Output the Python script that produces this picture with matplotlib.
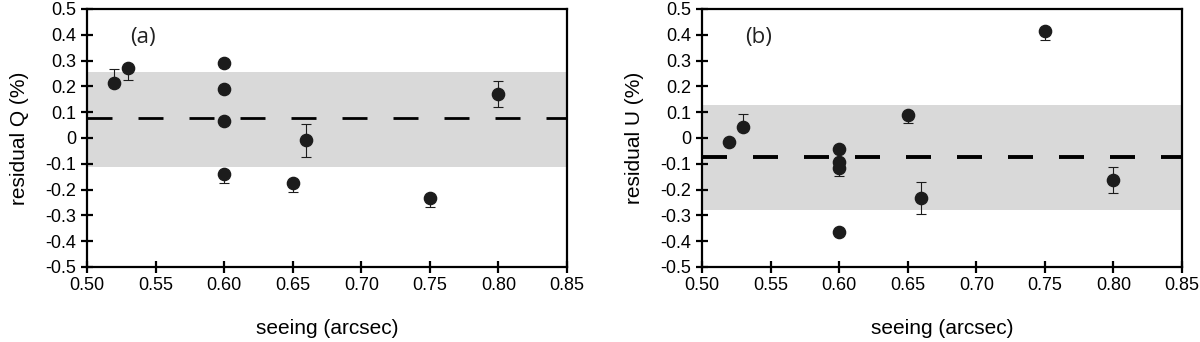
# Residual Q and U against seeing, two panels side by side

import matplotlib
matplotlib.use("Agg")
import matplotlib.pyplot as plt

plt.rcParams['font.family'] = ['Liberation Sans', 'DejaVu Sans']

# Panel (a): residual Q
seeing_q = [0.52, 0.53, 0.60, 0.60, 0.60, 0.60, 0.65, 0.66, 0.75, 0.80]
resid_q = [0.212, 0.270, 0.290, 0.190, 0.065, -0.140, -0.175, -0.008, -0.233, 0.170]
err_q_lo = [0.0, 0.045, 0.0, 0.0, 0.0, 0.034, 0.034, 0.064, 0.034, 0.050]
err_q_hi = [0.056, 0.0, 0.0, 0.0, 0.0, 0.0, 0.0, 0.064, 0.0, 0.050]
band_q = (-0.112, 0.256)
mean_q = 0.076

# Panel (b): residual U
seeing_u = [0.52, 0.53, 0.60, 0.60, 0.60, 0.60, 0.65, 0.66, 0.75, 0.80]
resid_u = [-0.017, 0.043, -0.044, -0.093, -0.117, -0.364, 0.088, -0.233, 0.413, -0.163]
err_u_lo = [0.0, 0.0, 0.0, 0.0, 0.031, 0.0, 0.030, 0.062, 0.033, 0.050]
err_u_hi = [0.0, 0.050, 0.0, 0.0, 0.0, 0.0, 0.0, 0.062, 0.0, 0.050]
band_u = (-0.281, 0.126)
mean_u = -0.075

xticks = [0.50, 0.55, 0.60, 0.65, 0.70, 0.75, 0.80, 0.85]
yticks = [-0.5, -0.4, -0.3, -0.2, -0.1, 0, 0.1, 0.2, 0.3, 0.4, 0.5]
ytick_labels = ['-0.5', '-0.4', '-0.3', '-0.2', '-0.1', '0', '0.1', '0.2', '0.3', '0.4', '0.5']

fig = plt.figure(figsize=(12, 3.42), dpi=100)
ax_a = fig.add_axes([0.0725, 0.2193, 0.4, 0.7544])
ax_b = fig.add_axes([0.585, 0.2193, 0.4, 0.7544])

panels = [
    (ax_a, seeing_q, resid_q, err_q_lo, err_q_hi, band_q, mean_q, 'residual Q (%)', '(a)', 2.0),
    (ax_b, seeing_u, resid_u, err_u_lo, err_u_hi, band_u, mean_u, 'residual U (%)', '(b)', 2.8),
]

for ax, x, y, lo, hi, band, mean, ylab, tag, lw in panels:
    ax.axhspan(band[0], band[1], color='#d9d9d9', lw=0, zorder=0)
    ax.axhline(mean, color='black', lw=lw, dashes=(25 / lw * 0.72, 26 / lw * 0.72), zorder=1)
    ax.errorbar(x, y, yerr=[lo, hi], fmt='o', color='#1c1c1c', ms=8.8,
                ecolor='#1c1c1c', elinewidth=0.8, capsize=3.6, capthick=0.8, zorder=3)

    ax.set_xlim(0.50, 0.85)
    ax.set_ylim(-0.5, 0.5)
    ax.set_xticks(xticks)
    ax.set_xticklabels([f"{t:.2f}" for t in xticks])
    ax.set_yticks(yticks)
    ax.set_yticklabels(ytick_labels)
    ax.tick_params(direction='inout', length=9, width=1.6, labelsize=13, pad=3)
    for s in ax.spines.values():
        s.set_linewidth(1.6)

    ax.set_xlabel('seeing (arcsec)', fontsize=15, labelpad=18)
    ax.set_ylabel(ylab, fontsize=15, labelpad=12)
    ax.text(0.541, 0.39, tag, fontsize=16, family=['Open Sans', 'DejaVu Sans'],
            ha='center', va='center', color='#222222')

plt.savefig("out.png", dpi=100)
plt.close()
